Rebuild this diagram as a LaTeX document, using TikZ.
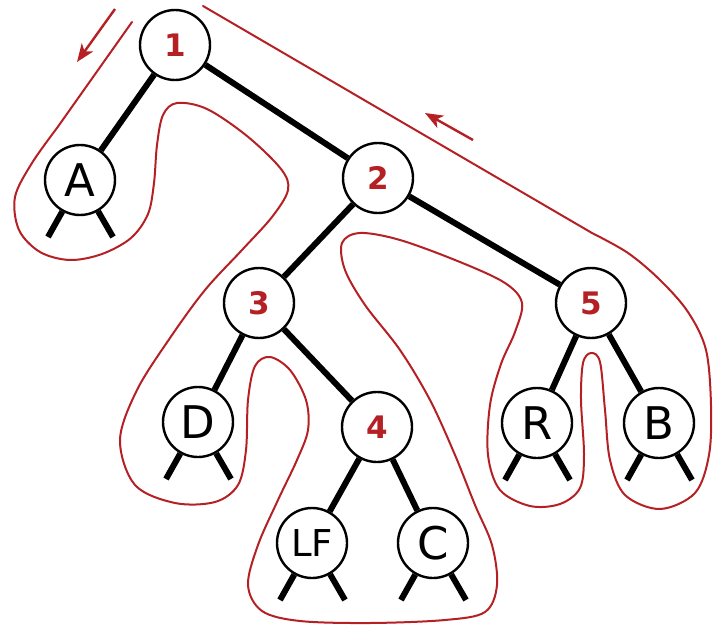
\documentclass[tikz,border=0pt]{standalone}
\usepackage{fontspec}
\setmainfont{DejaVu Sans}
\usetikzlibrary{arrows.meta}
\definecolor{tred}{RGB}{180,32,36}
\begin{document}
\begin{tikzpicture}[x=1pt,y=-1pt,
  nd/.style={circle,draw=black,line width=2.4pt,fill=white,minimum size=70pt,inner sep=0pt},
  lbl/.style={nd,font=\fontsize{45}{45}\selectfont},
  lblsmall/.style={nd,font=\fontsize{37}{37}\selectfont},
  num/.style={nd,font=\fontsize{31}{31}\selectfont\bfseries,text=tred},
  edge/.style={line width=6pt,draw=black},
  tour/.style={draw=tred,line width=2pt,line join=round,line cap=round},
  tarrow/.style={draw=tred,line width=2.4pt,-{Stealth[length=18pt,width=14pt,inset=5pt]}}]
\useasboundingbox (0,0) rectangle (713,626);

% nodes
\node[num] (n1) at (175,45) {1};
\node[lbl] (A) at (80,180) {A};
\node[num] (n2) at (378,178) {2};
\node[num] (n3) at (259,303) {3};
\node[lbl] (D) at (198,422) {D};
\node[num] (n4) at (377,427) {4};
\node[lblsmall] (LF) at (312,543) {LF};
\node[lbl] (C) at (433,543) {C};
\node[num] (n5) at (591,303) {5};
\node[lbl] (R) at (537,423) {R};
\node[lbl] (B) at (659,423) {B};

% edges
\draw[edge] (n1) -- (A);
\draw[edge] (n1) -- (n2);
\draw[edge] (n2) -- (n3);
\draw[edge] (n2) -- (n5);
\draw[edge] (n3) -- (D);
\draw[edge] (n3) -- (n4);
\draw[edge] (n4) -- (LF);
\draw[edge] (n4) -- (C);
\draw[edge] (n5) -- (R);
\draw[edge] (n5) -- (B);

% null-link stubs
\foreach \leaf in {A,D,LF,C,R,B}{
  \draw[edge] (\leaf) -- ++(-32,57);
  \draw[edge] (\leaf) -- ++(33,57);
}

% Euler tour contour
\coordinate (t0) at (132,22);
\coordinate (t1) at (57,128);
\coordinate (t2) at (592,233);
\coordinate (t3) at (203,6);
\draw[tour] (t0) -- (t1);
\draw[tour] plot[smooth,tension=0.55] coordinates {
(57,128) (32,163) (15,197) (19,230) (40,252) (70,260) (102,254) (131,238) (148,214) (154,183) (157,145) (163,115) (177,103) (207,109) (247,136) (281,169) (288,190) (272,217) (242,250) (205,290) (170,338) (137,390) (120,440) (135,485) (175,503) (215,502) (238,485) (246,450) (248,400) (255,366) (270,357) (290,370) (306,400) (308,430) (297,460) (278,500) (258,545) (248,585) (262,611) (300,621) (370,623) (445,620) (485,612) (497,585) (492,545) (475,505) (455,455) (430,400) (400,350) (365,305) (345,270) (342,243) (360,233) (400,240) (460,262) (505,283) (522,303) (515,332) (501,364) (490,405) (488,455) (500,490) (530,506) (560,504) (580,488) (584,455) (581,400) (583,363) (591,353) (600,362) (605,410) (610,460) (625,495) (660,509) (695,493) (709,455) (711,405) (706,350) (688,312) (660,280) (628,253) (592,233)
};
\draw[tour] (t2) -- (t3);

% direction arrows
\coordinate (la0) at (115,9);
\coordinate (la1) at (77,62);
\coordinate (ra0) at (473,140);
\coordinate (ra1) at (425,113);
\draw[tarrow] (la0) -- (la1);
\draw[tarrow] (ra0) -- (ra1);
\end{tikzpicture}
\end{document}
